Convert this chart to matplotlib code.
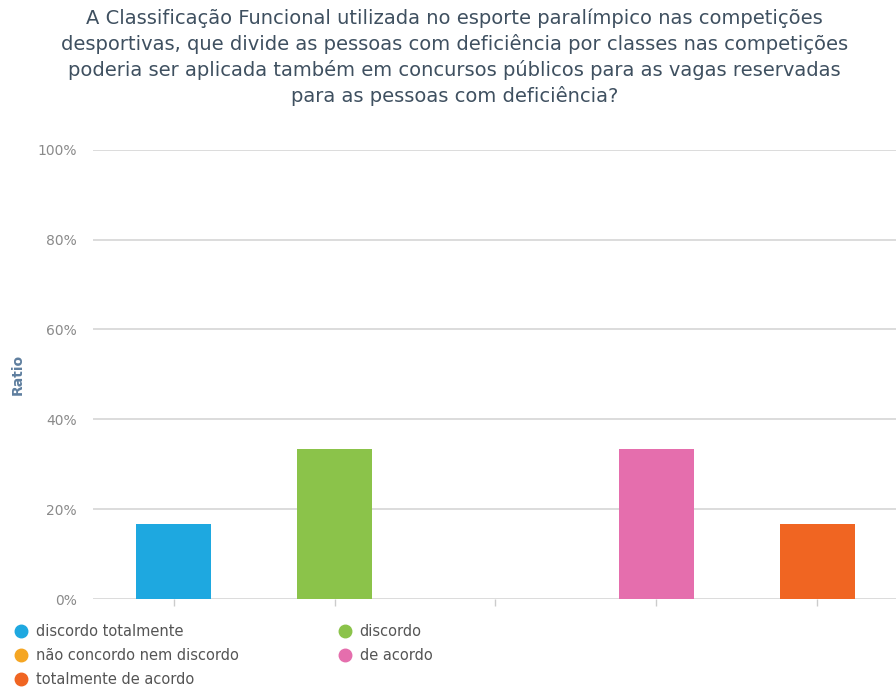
import matplotlib.pyplot as plt
from matplotlib.lines import Line2D
from matplotlib.ticker import FuncFormatter

categories = ["discordo totalmente", "discordo", "não concordo nem discordo",
              "de acordo", "totalmente de acordo"]
ratios = [16.67, 33.33, 0.0, 33.33, 16.67]
colors = ["#1ea8e0", "#8bc34a", "#f5a623", "#e56ead", "#f06522"]
y_ticks = [0, 20, 40, 60, 80, 100]

title = ("A Classificação Funcional utilizada no esporte paralímpico nas competições\n"
         "desportivas, que divide as pessoas com deficiência por classes nas competições\n"
         "poderia ser aplicada também em concursos públicos para as vagas reservadas\n"
         "para as pessoas com deficiência?")

fig = plt.figure(figsize=(8.96, 6.87), dpi=100)
ax = fig.add_axes([0.104, 0.128, 0.898, 0.654])

x = range(len(categories))
ax.bar(x, ratios, width=0.47, color=colors, zorder=3)

ax.set_xlim(-0.5, len(categories) - 0.5)
ax.set_ylim(0, 100)
ax.set_yticks(y_ticks)
ax.yaxis.set_major_formatter(FuncFormatter(lambda v, _: f"{v:.0f}%"))
ax.set_xticks(list(x))
ax.set_xticklabels([])
ax.grid(axis="y", color="#d6d6d6", linewidth=1.2, zorder=0)
for s in ax.spines.values():
    s.set_visible(False)
ax.tick_params(axis="y", length=0, labelsize=10, labelcolor="#8a8a8a", pad=12)
ax.tick_params(axis="x", length=5, color="#cccccc", width=1)

ax.set_ylabel("Ratio", fontsize=10, fontweight="bold", color="#5f7f9f")
ax.yaxis.set_label_coords(-0.085, 0.5)

fig.text(0.507, 0.988, title, ha="center", va="top", fontsize=14,
         color="#3f5060", linespacing=1.37)

# legend in two columns below the axis
handles = [Line2D([], [], marker="o", linestyle="", markersize=9,
                  markerfacecolor=c, markeredgecolor=c) for c in colors]
order = [0, 2, 4, 1, 3]
fig.legend([handles[i] for i in order], [categories[i] for i in order],
           loc="upper left", bbox_to_anchor=(0.009, 0.1), ncol=2,
           frameon=False, fontsize=10.5, labelcolor="#555555",
           handletextpad=0.5, columnspacing=6.8, labelspacing=0.6,
           borderaxespad=0, handlelength=1.0)

fig.savefig("out.png", dpi=100)
